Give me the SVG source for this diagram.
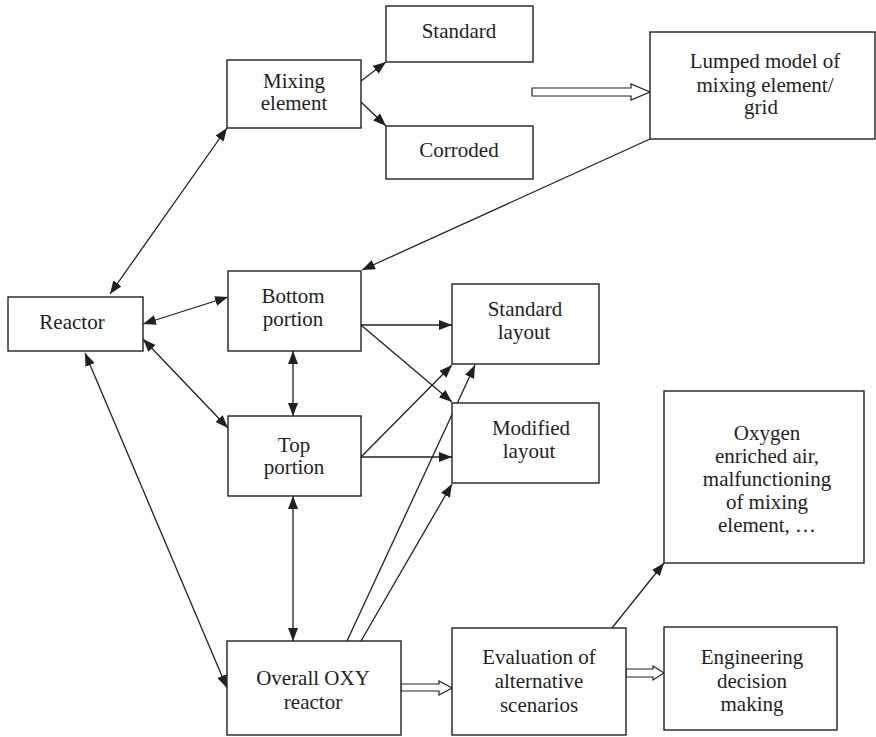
<svg xmlns="http://www.w3.org/2000/svg" width="876" height="737" viewBox="0 0 876 737">
<defs>
<marker id="ah" viewBox="0 0 13 10" refX="13" refY="5" markerWidth="13" markerHeight="10" markerUnits="userSpaceOnUse" orient="auto-start-reverse">
<path d="M0,0 L13,5 L0,10 z" fill="#231f20"/>
</marker>
<style>
.box{fill:#fff;stroke:#231f20;stroke-width:1.4}
.t{font-family:"Liberation Serif","Times New Roman",serif;font-size:21px;fill:#231f20;text-anchor:middle}
.c{stroke:#231f20;stroke-width:1.3;fill:none}
.h{fill:#fff;stroke:#231f20;stroke-width:1.2}
</style>
</defs>
<rect width="876" height="737" fill="#fff"/>
<g id="connectors">
<line class="c" x1="110" y1="294" x2="227" y2="128" marker-start="url(#ah)" marker-end="url(#ah)"/>
<line class="c" x1="143" y1="324" x2="228" y2="297" marker-start="url(#ah)" marker-end="url(#ah)"/>
<line class="c" x1="143" y1="339" x2="228" y2="428" marker-start="url(#ah)" marker-end="url(#ah)"/>
<line class="c" x1="85" y1="353" x2="227" y2="688" marker-start="url(#ah)" marker-end="url(#ah)"/>
<line class="c" x1="293" y1="351" x2="293" y2="416" marker-start="url(#ah)" marker-end="url(#ah)"/>
<line class="c" x1="293" y1="496" x2="293" y2="641" marker-start="url(#ah)" marker-end="url(#ah)"/>
<line class="c" x1="361" y1="81" x2="386" y2="62" marker-end="url(#ah)"/>
<line class="c" x1="361" y1="102" x2="386" y2="126" marker-end="url(#ah)"/>
<line class="c" x1="650" y1="139" x2="362" y2="270" marker-end="url(#ah)"/>
<line class="c" x1="361" y1="325" x2="452" y2="325" marker-end="url(#ah)"/>
<line class="c" x1="361" y1="325" x2="452" y2="402" marker-end="url(#ah)"/>
<line class="c" x1="361" y1="457" x2="452" y2="365" marker-end="url(#ah)"/>
<line class="c" x1="361" y1="457" x2="452" y2="457" marker-end="url(#ah)"/>
<line class="c" x1="347" y1="641" x2="475" y2="365" marker-end="url(#ah)"/>
<line class="c" x1="361" y1="641" x2="452" y2="484" marker-end="url(#ah)"/>
<line class="c" x1="612" y1="628" x2="664" y2="563" marker-end="url(#ah)"/>
<polygon class="h" points="532,88 631,88 631,84 650,92 631,100 631,96 532,96"/>
<polygon class="h" points="401,684 439,684 439,681 452,688 439,695 439,691 401,691"/>
<polygon class="h" points="626,669 653,669 653,666 664,673 653,680 653,677 626,677"/>
</g>
<g id="mixing"><rect class="box" x="227" y="60" width="134" height="68"/><text class="t" x="294" y="88">Mixing</text><text class="t" x="294" y="110">element</text></g>
<g id="standard"><rect class="box" x="386" y="6" width="147" height="56"/><text class="t" x="459" y="38">Standard</text></g>
<g id="corroded"><rect class="box" x="386" y="126" width="147" height="53"/><text class="t" x="459" y="157">Corroded</text></g>
<g id="lumped"><rect class="box" x="650" y="32" width="225" height="107"/><text class="t" x="765" y="68">Lumped model of</text><text class="t" x="765" y="92">mixing element/</text><text class="t" x="761" y="114">grid</text></g>
<g id="reactor"><rect class="box" x="8" y="297" width="135" height="54"/><text class="t" x="72" y="329">Reactor</text></g>
<g id="bottom"><rect class="box" x="228" y="271" width="133" height="80"/><text class="t" x="293" y="303">Bottom</text><text class="t" x="293" y="326">portion</text></g>
<g id="top"><rect class="box" x="228" y="416" width="133" height="80"/><text class="t" x="294" y="452">Top</text><text class="t" x="294" y="474">portion</text></g>
<g id="stdlayout"><rect class="box" x="452" y="284" width="147" height="80"/><text class="t" x="525" y="316">Standard</text><text class="t" x="524" y="339">layout</text></g>
<g id="modlayout"><rect class="box" x="452" y="403" width="147" height="80"/><text class="t" x="531" y="435">Modified</text><text class="t" x="529" y="458">layout</text></g>
<g id="overall"><rect class="box" x="227" y="641" width="174" height="94"/><text class="t" x="313" y="685">Overall OXY</text><text class="t" x="313" y="709">reactor</text></g>
<g id="evaluation"><rect class="box" x="452" y="628" width="174" height="107"/><text class="t" x="539" y="664">Evaluation of</text><text class="t" x="539" y="688">alternative</text><text class="t" x="539" y="712">scenarios</text></g>
<g id="oxygen"><rect class="box" x="664" y="391" width="200" height="172"/><text class="t" x="767" y="440">Oxygen</text><text class="t" x="767" y="463">enriched air,</text><text class="t" x="767" y="486">malfunctioning</text><text class="t" x="767" y="509">of mixing</text><text class="t" x="767" y="532">element, …</text></g>
<g id="engineering"><rect class="box" x="664" y="627" width="173" height="103"/><text class="t" x="752" y="664">Engineering</text><text class="t" x="752" y="688">decision</text><text class="t" x="752" y="711">making</text></g>
</svg>
